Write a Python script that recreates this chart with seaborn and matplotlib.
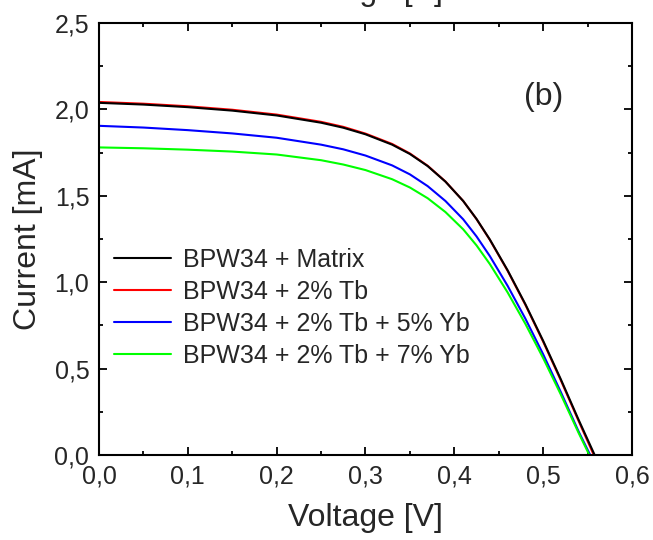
import pandas as pd
import seaborn as sns
import matplotlib.pyplot as plt
from matplotlib.ticker import MultipleLocator, FuncFormatter

# I-V curves of the BPW34 photodiode with different coatings
voltage_matrix = [0.00, 0.05, 0.10, 0.15, 0.20, 0.25, 0.275, 0.30, 0.33, 0.35, 0.37, 0.39, 0.41, 0.425, 0.44, 0.46, 0.48, 0.50, 0.52, 0.54, 0.558]
current_matrix = [2.038, 2.028, 2.013, 1.993, 1.965, 1.923, 1.894, 1.856, 1.796, 1.742, 1.672, 1.582, 1.47, 1.366, 1.247, 1.069, 0.873, 0.661, 0.437, 0.203, 0.00]

voltage_tb = [0.00, 0.05, 0.10, 0.15, 0.20, 0.25, 0.275, 0.30, 0.33, 0.35, 0.37, 0.39, 0.41, 0.425, 0.44, 0.46, 0.48, 0.50, 0.52, 0.54, 0.557]
current_tb = [2.043, 2.033, 2.018, 1.998, 1.97, 1.928, 1.899, 1.86, 1.80, 1.745, 1.674, 1.583, 1.47, 1.365, 1.245, 1.066, 0.869, 0.656, 0.431, 0.196, 0.00]

voltage_yb5 = [0.00, 0.05, 0.10, 0.15, 0.20, 0.25, 0.275, 0.30, 0.33, 0.35, 0.37, 0.39, 0.41, 0.425, 0.44, 0.46, 0.48, 0.50, 0.52, 0.54, 0.553]
current_yb5 = [1.905, 1.895, 1.88, 1.861, 1.836, 1.796, 1.769, 1.733, 1.676, 1.624, 1.556, 1.47, 1.364, 1.265, 1.151, 0.979, 0.789, 0.583, 0.363, 0.135, 0.00]

voltage_yb7 = [0.00, 0.05, 0.10, 0.15, 0.20, 0.25, 0.275, 0.30, 0.33, 0.35, 0.37, 0.39, 0.41, 0.425, 0.44, 0.46, 0.48, 0.50, 0.52, 0.54, 0.552]
current_yb7 = [1.78, 1.775, 1.767, 1.756, 1.739, 1.706, 1.681, 1.649, 1.596, 1.548, 1.486, 1.406, 1.306, 1.213, 1.105, 0.941, 0.759, 0.561, 0.349, 0.127, 0.00]

labels = ["BPW34 + Matrix", "BPW34 + 2% Tb", "BPW34 + 2% Tb + 5% Yb", "BPW34 + 2% Tb + 7% Yb"]
colors = ["#000000", "#ff0000", "#0000ff", "#00ff00"]

frames = []
for lab, v, c in zip(labels,
                     [voltage_matrix, voltage_tb, voltage_yb5, voltage_yb7],
                     [current_matrix, current_tb, current_yb5, current_yb7]):
    frames.append(pd.DataFrame({"Voltage": v, "Current": c, "Sample": lab}))
df = pd.concat(frames, ignore_index=True)

sns.set_style("white")
plt.rcParams["font.family"] = ["Liberation Sans", "DejaVu Sans"]

fig = plt.figure(figsize=(6.53, 5.40), dpi=100)
ax = fig.add_axes([0.1516, 0.1574, 0.8162, 0.8000])

sns.lineplot(data=df, x="Voltage", y="Current", hue="Sample", hue_order=labels,
             palette=colors, sort=False, linewidth=1.5, ax=ax, legend=True)
# the matrix curve sits on top of the Tb curve
ax.get_lines()[0].set_zorder(3)

ax.set_xlim(0, 0.6)
ax.set_ylim(0, 2.5)
ax.xaxis.set_major_locator(MultipleLocator(0.1))
ax.xaxis.set_minor_locator(MultipleLocator(0.05))
ax.yaxis.set_major_locator(MultipleLocator(0.5))
ax.yaxis.set_minor_locator(MultipleLocator(0.25))
comma = FuncFormatter(lambda v, p: f"{v:.1f}".replace(".", ","))
ax.xaxis.set_major_formatter(comma)
ax.yaxis.set_major_formatter(comma)

ax.tick_params(which="both", direction="in", top=True, right=True,
               bottom=True, left=True, width=1.3, color="black")
ax.tick_params(which="major", length=5.5, labelsize=18)
ax.tick_params(which="minor", length=3)
ax.tick_params(axis="x", which="major", pad=7)
ax.tick_params(axis="y", which="major", pad=7)
for s in ax.spines.values():
    s.set_linewidth(1.5)
    s.set_color("black")

ax.set_xlabel("Voltage [V]", fontsize=23, labelpad=10)
ax.set_ylabel("Current [mA]", fontsize=23, labelpad=8)

leg = ax.legend(loc="upper left", bbox_to_anchor=(0.0, 0.515), frameon=False,
                fontsize=18, handlelength=2.3, handletextpad=0.45,
                labelspacing=0.32, borderaxespad=0.2)
for h in leg.get_lines():
    h.set_linewidth(1.5)

ax.text(0.834, 0.829, "(b)", transform=ax.transAxes, fontsize=23, ha="center", va="center")

# descenders of the label of the panel above, cut by the top edge
fig.text(0.1516 + 0.8162 / 2, 1.0, "Voltage [V]", fontsize=23, ha="center", va="baseline")

fig.savefig("out.png", dpi=100)
